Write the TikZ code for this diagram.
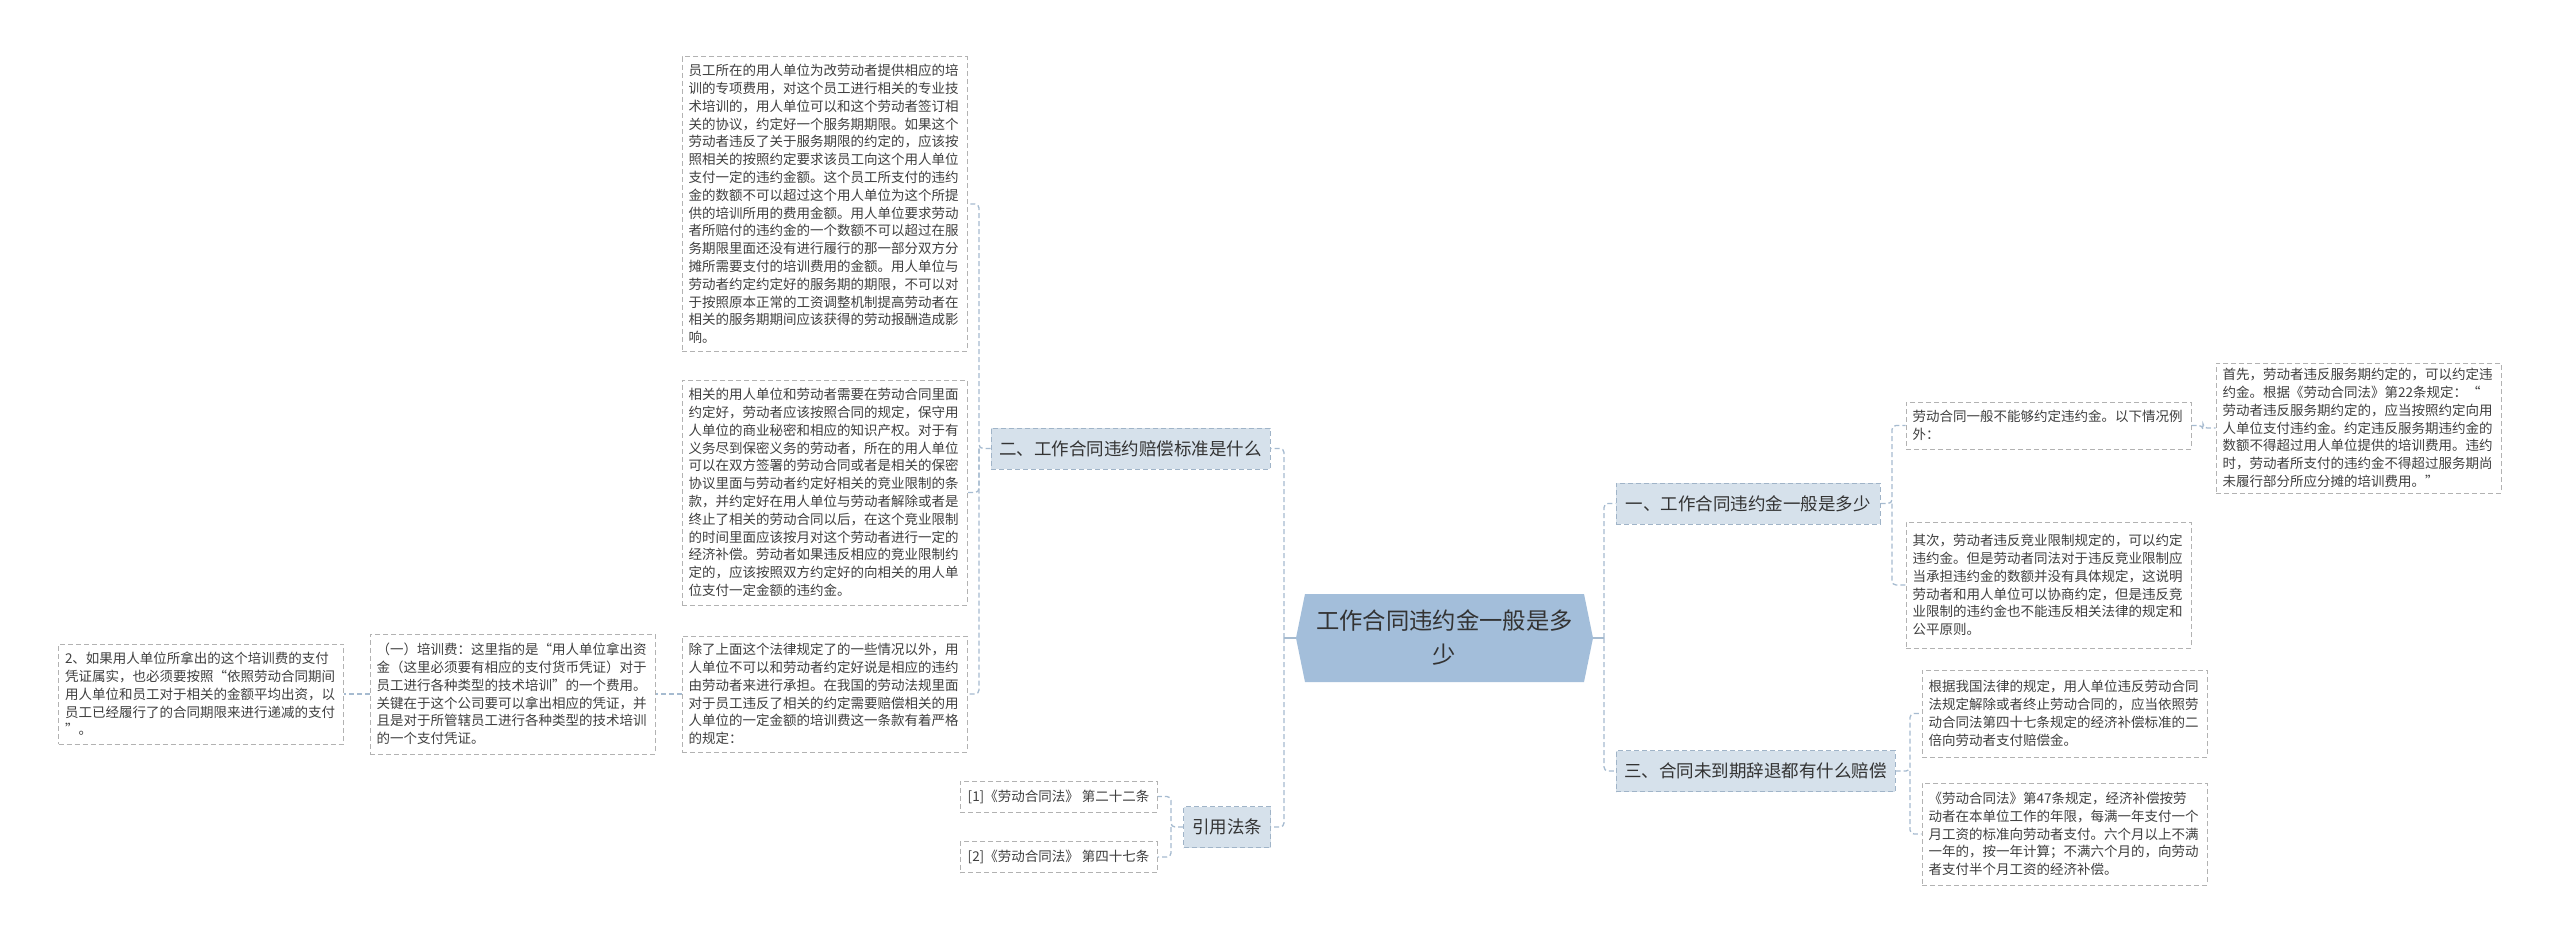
\documentclass[tikz,border=0pt]{standalone}
\usepackage{fontspec}
\setmainfont{Noto Sans CJK SC}
\definecolor{hexfill}{HTML}{A3BEDA}
\definecolor{lonefill}{HTML}{D6E1EB}
\definecolor{loneborder}{HTML}{A0B4C8}
\definecolor{conncol}{HTML}{A6BBD0}
\definecolor{leafborder}{HTML}{B2B2B2}
\definecolor{leaftext}{HTML}{404040}
\definecolor{maintext}{HTML}{333333}
\begin{document}
\begin{tikzpicture}[x=1pt,y=-1pt,
  leaf/.style={draw=leafborder, line width=1pt, dash pattern=on 5pt off 3pt, fill=white,
    font=\fontsize{13.5}{17.8}\selectfont, text=leaftext, align=left,
    text width=272pt, inner xsep=6.5pt, inner ysep=4pt},
  cite/.style={draw=leafborder, line width=1pt, dash pattern=on 5pt off 3pt, fill=white,
    font=\fontsize{13.5}{17.8}\selectfont, text=leaftext, inner xsep=6pt, inner ysep=4pt,
    minimum width=197pt, minimum height=31pt},
  lone/.style={draw=loneborder, line width=1pt, dash pattern=on 5pt off 3pt, fill=lonefill,
    font=\fontsize{17.5}{21}\selectfont, text=maintext, inner xsep=8pt, inner ysep=4pt,
    minimum height=41pt},
  conn/.style={draw=conncol, line width=1.3pt, dash pattern=on 5pt off 3pt, rounded corners=4pt},
  stub/.style={draw=conncol, line width=2pt}
]
\fill[white] (0,0) rectangle (2560,942);
\useasboundingbox (0,0) rectangle (2560,942);

% centre hexagon
\fill[hexfill] (1305,594) -- (1584,594) -- (1593,638) -- (1584,682) -- (1305,682) -- (1296,638) -- cycle;
\node[font=\fontsize{23.3}{34}\selectfont, text=maintext, align=center, text width=270pt,
  minimum width=297pt, minimum height=88pt, inner sep=0pt] (c) at (1444.5,638)
  {工作合同违约金一般是多\\少};

% level one
\node[lone, minimum width=279pt] (n2) at (1130.5,448.5) {二、工作合同违约赔偿标准是什么};
\node[lone, minimum width=87pt] (ny) at (1227,827) {引用法条};
\node[lone, minimum width=264pt] (n1) at (1748,503.5) {一、工作合同违约金一般是多少};
\node[lone, minimum width=279pt] (n3) at (1755.5,771) {三、合同未到期辞退都有什么赔偿};

% left leaves
\node[leaf, minimum height=294pt] (A) at (824.5,204) {员工所在的用人单位为改劳动者提供相应的培\\
训的专项费用，对这个员工进行相关的专业技\\
术培训的，用人单位可以和这个劳动者签订相\\
关的协议，约定好一个服务期期限。如果这个\\
劳动者违反了关于服务期限的约定的，应该按\\
照相关的按照约定要求该员工向这个用人单位\\
支付一定的违约金额。这个员工所支付的违约\\
金的数额不可以超过这个用人单位为这个所提\\
供的培训所用的费用金额。用人单位要求劳动\\
者所赔付的违约金的一个数额不可以超过在服\\
务期限里面还没有进行履行的那一部分双方分\\
摊所需要支付的培训费用的金额。用人单位与\\
劳动者约定约定好的服务期的期限，不可以对\\
于按照原本正常的工资调整机制提高劳动者在\\
相关的服务期期间应该获得的劳动报酬造成影\\
响。};
\node[leaf, minimum height=225pt] (B) at (824.5,492.5) {相关的用人单位和劳动者需要在劳动合同里面\\
约定好，劳动者应该按照合同的规定，保守用\\
人单位的商业秘密和相应的知识产权。对于有\\
义务尽到保密义务的劳动者，所在的用人单位\\
可以在双方签署的劳动合同或者是相关的保密\\
协议里面与劳动者约定好相关的竞业限制的条\\
款，并约定好在用人单位与劳动者解除或者是\\
终止了相关的劳动合同以后，在这个竞业限制\\
的时间里面应该按月对这个劳动者进行一定的\\
经济补偿。劳动者如果违反相应的竞业限制约\\
定的，应该按照双方约定好的向相关的用人单\\
位支付一定金额的违约金。};
\node[leaf, minimum height=116pt] (C) at (824.5,694) {除了上面这个法律规定了的一些情况以外，用\\
人单位不可以和劳动者约定好说是相应的违约\\
由劳动者来进行承担。在我国的劳动法规里面\\
对于员工违反了相关的约定需要赔偿相关的用\\
人单位的一定金额的培训费这一条款有着严格\\
的规定：};
\node[leaf, minimum height=120pt] (D) at (512.5,694) {（一）培训费：这里指的是“用人单位拿出资\\
金（这里必须要有相应的支付货币凭证）对于\\
员工进行各种类型的技术培训”的一个费用。\\
关键在于这个公司要可以拿出相应的凭证，并\\
且是对于所管辖员工进行各种类型的技术培训\\
的一个支付凭证。};
\node[leaf, minimum height=100pt] (E) at (201,694) {2、如果用人单位所拿出的这个培训费的支付\\
凭证属实，也必须要按照“依照劳动合同期间\\
用人单位和员工对于相关的金额平均出资，以\\
员工已经履行了的合同期限来进行递减的支付\\
”。};

% citations
\node[cite] (b1) at (1058.5,796.5) {[1]《劳动合同法》 第二十二条};
\node[cite] (b2) at (1058.5,857) {[2]《劳动合同法》 第四十七条};

% right leaves
\node[leaf, minimum height=47pt] (R1) at (2048.5,425.5) {劳动合同一般不能够约定违约金。以下情况例\\
外：};
\node[leaf, minimum height=130pt] (R2) at (2358.5,428) {首先，劳动者违反服务期约定的，可以约定违\\
约金。根据《劳动合同法》第22条规定：“\\
劳动者违反服务期约定的，应当按照约定向用\\
人单位支付违约金。约定违反服务期违约金的\\
数额不得超过用人单位提供的培训费用。违约\\
时，劳动者所支付的违约金不得超过服务期尚\\
未履行部分所应分摊的培训费用。”};
\node[leaf, minimum height=126pt] (R3) at (2048.5,585) {其次，劳动者违反竞业限制规定的，可以约定\\
违约金。但是劳动者同法对于违反竞业限制应\\
当承担违约金的数额并没有具体规定，这说明\\
劳动者和用人单位可以协商约定，但是违反竞\\
业限制的违约金也不能违反相关法律的规定和\\
公平原则。};
\node[leaf, minimum height=87pt] (R4) at (2064.5,713.5) {根据我国法律的规定，用人单位违反劳动合同\\
法规定解除或者终止劳动合同的，应当依照劳\\
动合同法第四十七条规定的经济补偿标准的二\\
倍向劳动者支付赔偿金。};
\node[leaf, minimum height=102pt] (R5) at (2064.5,834) {《劳动合同法》第47条规定，经济补偿按劳\\
动者在本单位工作的年限，每满一年支付一个\\
月工资的标准向劳动者支付。六个月以上不满\\
一年的，按一年计算；不满六个月的，向劳动\\
者支付半个月工资的经济补偿。};

% connectors: centre
\draw[stub] (c.west) -- (1284,638) coordinate (lt);
\draw[conn] (lt) |- (n2.east);
\draw[conn] (lt) |- (ny.east);
\draw[stub] (c.east) -- (1604,638) coordinate (rt);
\draw[conn] (rt) |- (n1.west);
\draw[conn] (rt) |- (n3.west);

% left branch
\draw[conn] (n2.west) -- (979,448.5) coordinate (t2) |- (A.east);
\draw[conn] (t2) |- (B.east);
\draw[conn] (t2) |- (C.east);
\draw[conn] (C.west) -- (D.east);
\draw[conn] (D.west) -- (E.east);
\draw[conn] (ny.west) -- (1171,827) coordinate (ty) |- (b1.east);
\draw[conn] (ty) |- (b2.east);

% right branch
\draw[conn] (n1.east) -- (1892,503.5) coordinate (t1) |- (R1.west);
\draw[conn] (t1) |- (R3.west);
\draw[conn] (R1.east) -- (2203,425.5) |- (R2.west);
\draw[conn] (n3.east) -- (1910,771) coordinate (t3) |- (R4.west);
\draw[conn] (t3) |- (R5.west);
\end{tikzpicture}
\end{document}
